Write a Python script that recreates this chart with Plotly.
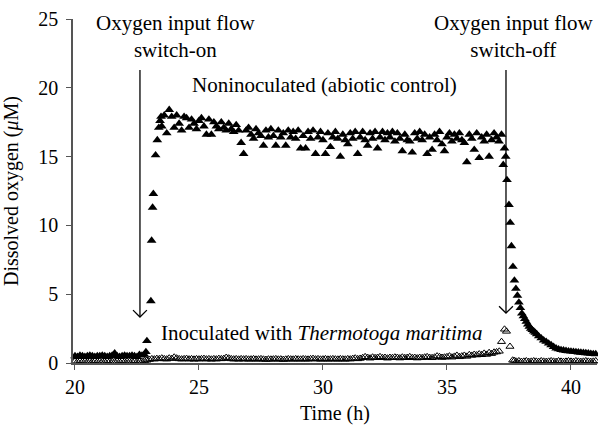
import plotly.graph_objects as go

# ---------------- data ----------------
nonin_time = [
    20.0, 20.1, 20.2, 20.3, 20.4, 20.5, 20.6, 20.7, 20.8, 20.9,
    21.0, 21.1, 21.2, 21.3, 21.4, 21.5, 21.6, 21.7, 21.8, 21.9,
    22.0, 22.1, 22.2, 22.3, 22.4, 22.5, 22.6, 22.7, 22.8,
    22.86, 22.9, 23.06, 23.09, 23.13, 23.16, 23.25, 23.32, 23.38, 23.43, 23.47,
    23.5, 23.6, 23.7, 23.8, 23.9, 24.0, 24.1, 24.2, 24.3, 24.4,
    24.5, 24.6, 24.7, 24.8, 24.9, 25.0, 25.1, 25.2, 25.3, 25.4,
    25.5, 25.6, 25.7, 25.8, 25.9, 26.0, 26.1, 26.2, 26.3, 26.4,
    26.5, 26.6, 26.7, 26.8, 26.9, 27.0, 27.1, 27.2, 27.3, 27.4,
    27.5, 27.6, 27.7, 27.8, 27.9, 28.0, 28.1, 28.2, 28.3, 28.4,
    28.5, 28.6, 28.7, 28.8, 28.9, 29.0, 29.1, 29.2, 29.3, 29.4,
    29.5, 29.6, 29.7, 29.8, 29.9, 30.0, 30.1, 30.2, 30.3, 30.4,
    30.5, 30.6, 30.7, 30.8, 30.9, 31.0, 31.1, 31.2, 31.3, 31.4,
    31.5, 31.6, 31.7, 31.8, 31.9, 32.0, 32.1, 32.2, 32.3, 32.4,
    32.5, 32.6, 32.7, 32.8, 32.9, 33.0, 33.1, 33.2, 33.3, 33.4,
    33.5, 33.6, 33.7, 33.8, 33.9, 34.0, 34.1, 34.2, 34.3, 34.4,
    34.5, 34.6, 34.7, 34.8, 34.9, 35.0, 35.1, 35.2, 35.3, 35.4,
    35.5, 35.6, 35.7, 35.8, 35.9, 36.0, 36.1, 36.2, 36.3, 36.4,
    36.5, 36.6, 36.7, 36.8, 36.9, 37.0, 37.1, 37.2,
    37.27, 37.32, 37.37, 37.42, 37.5, 37.55, 37.6, 37.66, 37.72, 37.78,
    37.84, 37.9, 37.96, 38.02, 38.08, 38.14, 38.2, 38.26, 38.32, 38.38,
    38.44, 38.5, 38.56, 38.62, 38.7, 38.8, 38.9, 39.0, 39.1, 39.2,
    39.3, 39.4, 39.5, 39.6, 39.7, 39.8, 39.9, 40.0, 40.1, 40.2,
    40.3, 40.4, 40.5, 40.6, 40.7, 40.8, 40.9, 41.0,
]
nonin_o2 = [
    0.5, 0.45, 0.55, 0.5, 0.45, 0.5, 0.55, 0.5, 0.45, 0.5,
    0.5, 0.55, 0.5, 0.45, 0.5, 0.55, 0.7, 0.5, 0.45, 0.5,
    0.55, 0.5, 0.5, 0.55, 0.5, 0.45, 0.6, 0.55, 0.6,
    0.8, 1.6, 4.5, 8.9, 11.3, 12.3, 15.1, 16.2, 17.1, 17.6, 17.9,
    17.2, 18.0, 16.7, 18.4, 17.9, 17.1, 18.0, 17.4, 16.9, 17.9,
    17.8, 17.1, 17.7, 17.4, 17.0, 17.6, 17.8, 17.2, 16.6, 17.7,
    16.6, 17.5, 17.2, 17.0, 17.5, 17.1, 16.9, 17.4, 17.0, 16.8,
    17.3, 16.9, 16.0, 15.2, 16.9, 17.1, 16.6, 16.3, 17.0, 16.7,
    16.5, 15.8, 16.9, 16.4, 17.0, 16.5, 15.8, 16.9, 16.4, 16.7,
    15.8, 16.9, 16.4, 16.8, 16.3, 16.9, 15.6, 16.5, 15.6, 16.8,
    16.3, 16.9, 15.2, 16.4, 16.8, 16.2, 15.2, 16.7, 15.7, 16.4,
    16.8, 16.3, 15.0, 16.6, 16.2, 15.9, 16.7, 16.3, 16.8, 15.2,
    16.4, 16.8, 16.2, 15.8, 16.7, 16.3, 16.8, 15.6, 16.4, 16.8,
    16.2, 16.7, 16.4, 16.8, 16.1, 16.7, 16.3, 15.4, 16.6, 16.2,
    16.1, 15.3, 16.7, 16.3, 16.8, 16.2, 16.6, 15.2, 16.4, 15.5,
    16.6, 16.2, 16.8, 15.9, 15.4, 16.4, 16.7, 16.1, 16.6, 16.3,
    16.7, 16.2, 16.0, 14.6, 16.6, 16.3, 15.5, 16.7, 14.9, 16.4,
    16.1, 16.6, 15.0, 16.2, 16.7, 16.4, 16.1, 16.6,
    14.4, 15.6, 15.0, 13.3, 11.5, 10.2, 8.5, 7.0, 6.0, 5.4,
    4.9, 4.4, 4.0, 3.6, 3.4, 3.2, 3.0, 2.8, 2.65, 2.5,
    2.4, 2.3, 2.2, 2.1, 1.95, 1.8, 1.65, 1.55, 1.42, 1.3,
    1.18, 1.07, 1.0, 0.95, 0.92, 0.89, 0.86, 0.84, 0.82, 0.8,
    0.78, 0.76, 0.74, 0.72, 0.7, 0.68, 0.66, 0.65,
]

inoc_time = [
    20.0, 20.1, 20.2, 20.3, 20.4, 20.5, 20.6, 20.7, 20.8, 20.9,
    21.0, 21.1, 21.2, 21.3, 21.4, 21.5, 21.6, 21.7, 21.8, 21.9,
    22.0, 22.1, 22.2, 22.3, 22.4, 22.5, 22.6, 22.7, 22.8, 22.9,
    23.0, 23.1, 23.2, 23.3, 23.4, 23.5, 23.6, 23.7, 23.8, 23.9,
    24.0, 24.1, 24.2, 24.3, 24.4, 24.5, 24.6, 24.7, 24.8, 24.9,
    25.0, 25.1, 25.2, 25.3, 25.4, 25.5, 25.6, 25.7, 25.8, 25.9,
    26.0, 26.1, 26.2, 26.3, 26.4, 26.5, 26.6, 26.7, 26.8, 26.9,
    27.0, 27.1, 27.2, 27.3, 27.4, 27.5, 27.6, 27.7, 27.8, 27.9,
    28.0, 28.1, 28.2, 28.3, 28.4, 28.5, 28.6, 28.7, 28.8, 28.9,
    29.0, 29.1, 29.2, 29.3, 29.4, 29.5, 29.6, 29.7, 29.8, 29.9,
    30.0, 30.1, 30.2, 30.3, 30.4, 30.5, 30.6, 30.7, 30.8, 30.9,
    31.0, 31.1, 31.2, 31.3, 31.4, 31.5, 31.6, 31.7, 31.8, 31.9,
    32.0, 32.1, 32.2, 32.3, 32.4, 32.5, 32.6, 32.7, 32.8, 32.9,
    33.0, 33.1, 33.2, 33.3, 33.4, 33.5, 33.6, 33.7, 33.8, 33.9,
    34.0, 34.1, 34.2, 34.3, 34.4, 34.5, 34.6, 34.7, 34.8, 34.9,
    35.0, 35.1, 35.2, 35.3, 35.4, 35.5, 35.6, 35.7, 35.8, 35.9,
    36.0, 36.1, 36.2, 36.3, 36.4, 36.5, 36.6, 36.7, 36.8, 36.9,
    37.0, 37.11, 37.2, 37.32, 37.4, 37.54, 37.65, 37.72,
    37.8, 37.9, 38.0, 38.1, 38.2, 38.3, 38.4, 38.5, 38.6, 38.7,
    38.8, 38.9, 39.0, 39.1, 39.2, 39.3, 39.4, 39.5, 39.6, 39.7,
    39.8, 39.9, 40.0, 40.1, 40.2, 40.3, 40.4, 40.5, 40.6, 40.7,
    40.8, 40.9, 41.0,
]
inoc_o2 = [
    0.12, 0.1, 0.15, 0.1, 0.12, 0.08, 0.12, 0.1, 0.15, 0.1,
    0.12, 0.1, 0.1, 0.15, 0.12, 0.1, 0.08, 0.12, 0.1, 0.15,
    0.1, 0.12, 0.1, 0.12, 0.15, 0.1, 0.12, 0.1, 0.15, 0.2,
    0.25, 0.3, 0.28, 0.32, 0.3, 0.35, 0.3, 0.28, 0.35, 0.32,
    0.42, 0.35, 0.3, 0.28, 0.3, 0.32, 0.28, 0.3, 0.27, 0.3,
    0.28, 0.3, 0.32, 0.28, 0.3, 0.27, 0.3, 0.28, 0.32, 0.3,
    0.32, 0.4, 0.35, 0.3, 0.28, 0.3, 0.27, 0.3, 0.28, 0.3,
    0.27, 0.28, 0.3, 0.27, 0.28, 0.3, 0.27, 0.25, 0.28, 0.27,
    0.28, 0.3, 0.27, 0.28, 0.25, 0.27, 0.3, 0.28, 0.27, 0.3,
    0.28, 0.27, 0.3, 0.28, 0.27, 0.3, 0.32, 0.28, 0.3, 0.27,
    0.28, 0.3, 0.27, 0.28, 0.3, 0.28, 0.27, 0.3, 0.28, 0.27,
    0.3, 0.28, 0.32, 0.35, 0.3, 0.33, 0.38, 0.45, 0.4, 0.35,
    0.42, 0.38, 0.4, 0.45, 0.38, 0.4, 0.35, 0.4, 0.38, 0.42,
    0.4, 0.36, 0.42, 0.38, 0.4, 0.45, 0.38, 0.4, 0.36, 0.4,
    0.38, 0.42, 0.45, 0.4, 0.38, 0.42, 0.5, 0.45, 0.4, 0.42,
    0.45, 0.5, 0.42, 0.48, 0.55, 0.45, 0.5, 0.55, 0.48, 0.6,
    0.55, 0.62, 0.58, 0.65, 0.6, 0.7, 0.62, 0.75, 0.68, 0.78,
    0.8, 0.85, 1.55, 2.45, 2.3, 1.2, 0.2, 0.18,
    0.12, 0.15, 0.1, 0.12, 0.15, 0.1, 0.12, 0.15, 0.12, 0.1,
    0.15, 0.12, 0.1, 0.12, 0.15, 0.12, 0.1, 0.15, 0.12, 0.1,
    0.12, 0.15, 0.12, 0.1, 0.15, 0.12, 0.1, 0.12, 0.15, 0.12,
    0.1, 0.12, 0.15,
]

x_ticks = [20, 25, 30, 35, 40]
y_ticks = [0, 5, 10, 15, 20, 25]

FONT = "Liberation Serif"

fig = go.Figure()
fig.add_trace(go.Scatter(
    x=inoc_time, y=inoc_o2, mode="markers", cliponaxis=False,
    marker=dict(symbol="triangle-up-open", size=7, color="black",
                line=dict(width=1, color="black")),
    showlegend=False,
))
fig.add_trace(go.Scatter(
    x=nonin_time, y=nonin_o2, mode="markers", cliponaxis=False,
    marker=dict(symbol="triangle-up", size=8.5, color="black",
                line=dict(width=0)),
    showlegend=False,
))

# arrows (vertical line + open V head)
arrows = [(22.62, 21.3, 3.34), (37.38, 21.3, 3.63)]
hw, hh = 0.28, 0.5
for ax_x, y_top, y_tip in arrows:
    fig.add_shape(type="line", x0=ax_x, x1=ax_x, y0=y_top, y1=y_tip,
                  xref="x", yref="y", line=dict(color="black", width=1.3))
    fig.add_shape(type="path",
                  path=f"M {ax_x-hw},{y_tip+hh} L {ax_x},{y_tip} L {ax_x+hw},{y_tip+hh}",
                  xref="x", yref="y", line=dict(color="black", width=1.3))

tf = dict(family=FONT, size=21, color="black")
tick_f = dict(family=FONT, size=20, color="black")
fig.add_annotation(x=24.07, y=23.7, xref="x", yref="y", showarrow=False,
                   text="Oxygen input flow<br>switch-on", font=tf,
                   xanchor="center", yanchor="middle")
fig.add_annotation(x=37.7, y=23.7, xref="x", yref="y", showarrow=False,
                   text="Oxygen input flow<br>switch-off", font=tf,
                   xanchor="center", yanchor="middle")
fig.add_annotation(x=30.08, y=20.2, xref="x", yref="y", showarrow=False,
                   text="Noninoculated (abiotic control)", font=tf,
                   xanchor="center", yanchor="middle")
fig.add_annotation(x=29.96, y=2.18, xref="x", yref="y", showarrow=False,
                   text="Inoculated with <i>Thermotoga maritima</i>", font=tf,
                   xanchor="center", yanchor="middle")

axis_col = "#555555"
fig.update_xaxes(range=[19.92, 41.05], tickvals=x_ticks, ticks="outside",
                 ticklen=5, tickcolor=axis_col, showline=True, linecolor=axis_col,
                 linewidth=1.5, showgrid=False, zeroline=False, automargin=False,
                 tickfont=tick_f, title=dict(text="Time (h)", font=tick_f))
fig.update_yaxes(range=[0, 25], tickvals=y_ticks, ticks="outside",
                 ticklen=5, tickcolor=axis_col, showline=True, linecolor=axis_col,
                 linewidth=1.5, showgrid=False, zeroline=False, automargin=False,
                 ticklabelstandoff=4,
                 tickfont=tick_f, title=dict(text="Dissolved oxygen (<i>μ</i>M)", font=tick_f))

fig.update_layout(
    width=598, height=425,
    margin=dict(l=73, r=1, t=19, b=62),
    paper_bgcolor="white", plot_bgcolor="white",
    font=dict(family=FONT, size=20, color="black"),
)

fig.write_html("out.html", config={"displayModeBar": False},
               post_script="document.body.style.margin='0';")
